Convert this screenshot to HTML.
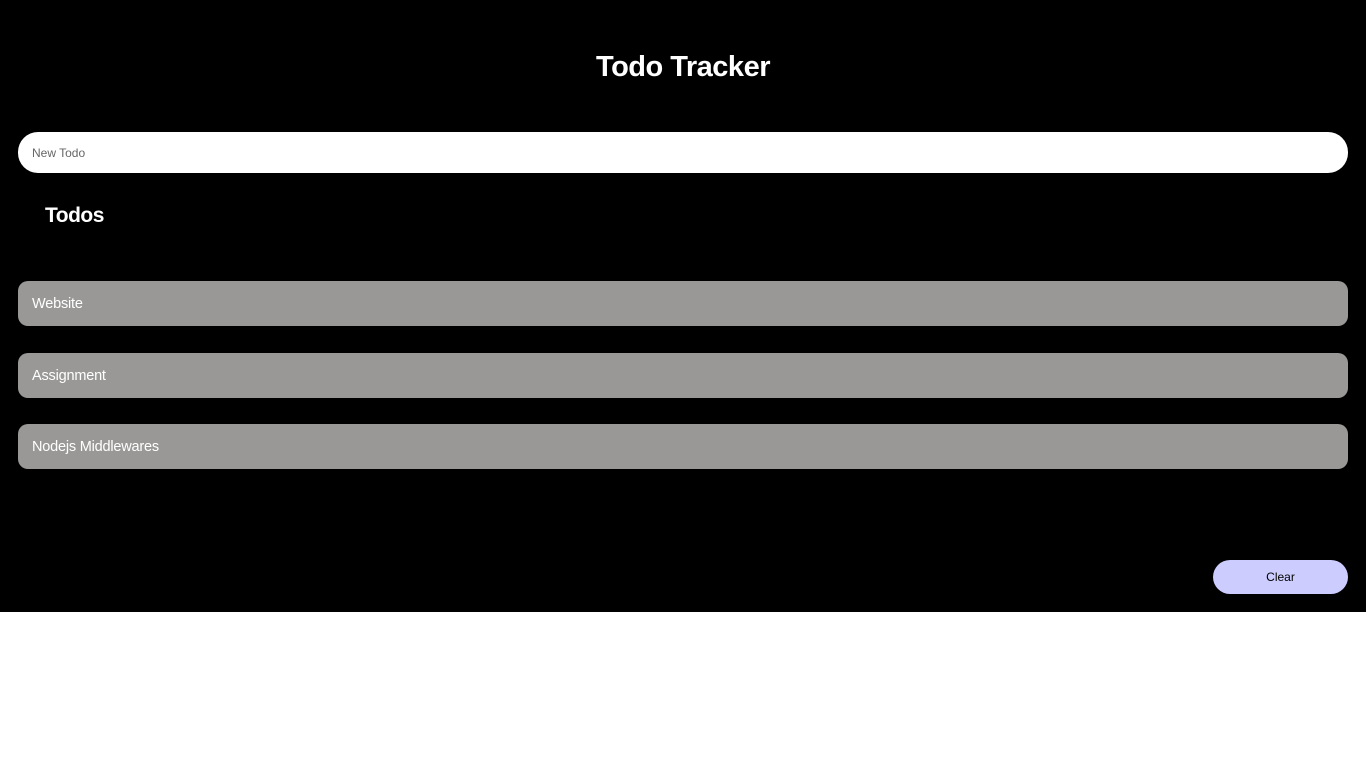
<!DOCTYPE html>
<html><head><meta charset="utf-8"><style>
html,body{margin:0;padding:0;background:#fff;width:1366px;height:768px;overflow:hidden;font-family:"Liberation Sans",sans-serif}
#app{position:absolute;left:0;top:0;width:1366px;height:612px;background:#000}
h1{position:absolute;left:0;width:1366px;top:49px;margin:0;text-align:center;color:#fff;font-size:29px;font-weight:bold;line-height:36px;letter-spacing:-0.5px}
input{position:absolute;left:18px;top:132px;width:1330px;height:41px;box-sizing:border-box;border:none;border-radius:20px;padding:0 14px;font-family:"Liberation Sans",sans-serif;font-size:12px;color:#555;outline:none;background:#fff}
input::placeholder{color:#666}
h2{position:absolute;left:45px;top:202px;margin:0;color:#fff;font-size:21px;font-weight:bold;line-height:28px;letter-spacing:-0.5px}
.item{position:absolute;left:18px;width:1330px;height:45px;background:#999896;border-radius:10px;color:#fff;font-size:14.5px;line-height:47px;padding-left:14px;box-sizing:border-box;letter-spacing:-0.2px}
button{position:absolute;left:1213px;top:560px;width:135px;height:34px;border:none;border-radius:17px;background:#ccccff;color:#000;font-family:"Liberation Sans",sans-serif;font-size:12px}
</style></head><body>
<div id="app">
<h1>Todo Tracker</h1>
<input placeholder="New Todo">
<h2>Todos</h2>
<div class="item" style="top:281px">Website</div>
<div class="item" style="top:353px">Assignment</div>
<div class="item" style="top:424px">Nodejs Middlewares</div>
<button>Clear</button>
</div>
</body></html>
